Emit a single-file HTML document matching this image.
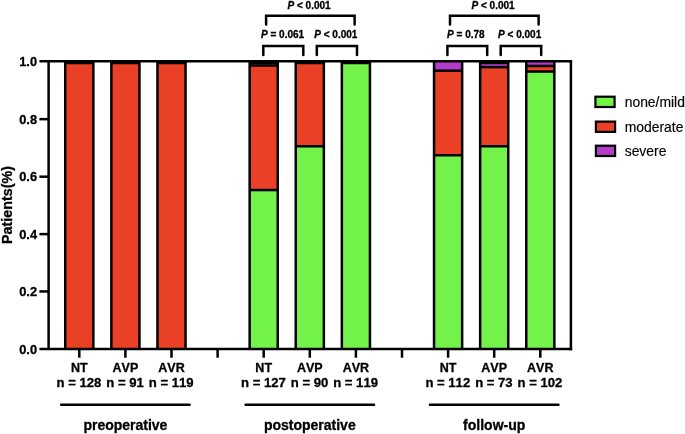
<!DOCTYPE html>
<html lang="en"><head><meta charset="utf-8"><title>Patients(%) chart</title>
<style>html,body{margin:0;padding:0;background:#fff}body{width:685px;height:434px;overflow:hidden}svg{display:block;filter:blur(0.35px)}text{font-kerning:none;font-family:"Liberation Sans",Arial,Helvetica,sans-serif;fill:#000}.b{font-weight:bold;stroke:#000;stroke-width:0.3px}.r{stroke:#000;stroke-width:0.15px}.i{font-style:italic}</style>
</head><body>
<svg width="685" height="434" viewBox="0 0 685 434">
<rect width="685" height="434" fill="#fff"/>
<g>
<rect x="65.25" y="63.00" width="28.10" height="285.90" fill="#e94026"/>
<rect x="111.35" y="63.00" width="28.10" height="285.90" fill="#e94026"/>
<rect x="157.45" y="63.00" width="28.10" height="285.90" fill="#e94026"/>
<rect x="249.65" y="63.00" width="28.10" height="2.50" fill="#b33cc9"/>
<rect x="249.65" y="65.50" width="28.10" height="124.55" fill="#e94026"/>
<rect x="249.65" y="190.05" width="28.10" height="158.85" fill="#73f349"/>
<rect x="295.75" y="63.00" width="28.10" height="83.25" fill="#e94026"/>
<rect x="295.75" y="146.25" width="28.10" height="202.65" fill="#73f349"/>
<rect x="341.85" y="63.00" width="28.10" height="285.90" fill="#73f349"/>
<rect x="434.05" y="61.30" width="28.10" height="9.35" fill="#b33cc9"/>
<rect x="434.05" y="70.65" width="28.10" height="84.60" fill="#e94026"/>
<rect x="434.05" y="155.25" width="28.10" height="193.65" fill="#73f349"/>
<rect x="480.15" y="63.00" width="28.10" height="4.15" fill="#b33cc9"/>
<rect x="480.15" y="67.15" width="28.10" height="79.10" fill="#e94026"/>
<rect x="480.15" y="146.25" width="28.10" height="202.65" fill="#73f349"/>
<rect x="526.25" y="61.30" width="28.10" height="4.65" fill="#b33cc9"/>
<rect x="526.25" y="65.95" width="28.10" height="5.60" fill="#e94026"/>
<rect x="526.25" y="71.55" width="28.10" height="277.35" fill="#73f349"/>
</g>
<g stroke="#000" stroke-width="2.5" fill="none" stroke-linejoin="miter">
<path d="M65.25 348.9V63.00H93.35V348.9"/>
<path d="M111.35 348.9V63.00H139.45V348.9"/>
<path d="M157.45 348.9V63.00H185.55V348.9"/>
<path d="M249.65 348.9V63.00H277.75V348.9"/>
<path d="M249.65 65.50H277.75"/>
<path d="M249.65 190.05H277.75"/>
<path d="M295.75 348.9V63.00H323.85V348.9"/>
<path d="M295.75 146.25H323.85"/>
<path d="M341.85 348.9V63.00H369.95V348.9"/>
<path d="M434.05 348.9V61.3M462.15 61.3V348.9"/>
<path d="M434.05 70.65H462.15"/>
<path d="M434.05 155.25H462.15"/>
<path d="M480.15 348.9V63.00H508.25V348.9"/>
<path d="M480.15 67.15H508.25"/>
<path d="M480.15 146.25H508.25"/>
<path d="M526.25 348.9V61.3M554.35 61.3V348.9"/>
<path d="M526.25 65.95H554.35"/>
<path d="M526.25 71.55H554.35"/>
</g>
<g stroke="#000" stroke-width="2.5" fill="none" stroke-linecap="butt">
<path d="M39.40 61.3H572.15"/>
<path d="M39.40 348.9H572.15"/>
<path d="M48.6 61.3V348.9"/>
<path d="M570.9 61.3V350.15"/>
<path d="M39.40 291.45H48.6"/>
<path d="M39.40 234.10H48.6"/>
<path d="M39.40 176.70H48.6"/>
<path d="M39.40 119.15H48.6"/>
<path d="M79.30 348.9V357.70"/>
<path d="M125.40 348.9V357.70"/>
<path d="M171.50 348.9V357.70"/>
<path d="M217.60 348.9V357.70"/>
<path d="M263.70 348.9V357.70"/>
<path d="M309.80 348.9V357.70"/>
<path d="M355.90 348.9V357.70"/>
<path d="M402.00 348.9V357.70"/>
<path d="M448.10 348.9V357.70"/>
<path d="M494.20 348.9V357.70"/>
<path d="M540.30 348.9V357.70"/>
</g>
<g class="b" font-size="12.8" text-anchor="end">
<text x="37.0" y="353.50">0.0</text>
<text x="37.0" y="296.05">0.2</text>
<text x="37.0" y="238.70">0.4</text>
<text x="37.0" y="181.30">0.6</text>
<text x="37.0" y="123.75">0.8</text>
<text x="37.0" y="65.90">1.0</text>
</g>
<text class="b" font-size="14.3" text-anchor="middle" transform="translate(12.0 205.0) rotate(-90)">Patients(%)</text>
<g class="b" font-size="12.5" text-anchor="middle">
<text x="79.30" y="371.6">NT</text>
<text x="125.40" y="371.6">AVP</text>
<text x="171.50" y="371.6">AVR</text>
<text x="263.70" y="371.6">NT</text>
<text x="309.80" y="371.6">AVP</text>
<text x="355.90" y="371.6">AVR</text>
<text x="448.10" y="371.6">NT</text>
<text x="494.20" y="371.6">AVP</text>
<text x="540.30" y="371.6">AVR</text>
</g>
<g class="b" font-size="13.1" text-anchor="middle">
<text x="79.00" y="386.8">n = 128</text>
<text x="125.10" y="386.8">n = 91</text>
<text x="171.20" y="386.8">n = 119</text>
<text x="263.40" y="386.8">n = 127</text>
<text x="309.50" y="386.8">n = 90</text>
<text x="355.60" y="386.8">n = 119</text>
<text x="447.80" y="386.8">n = 112</text>
<text x="493.90" y="386.8">n = 73</text>
<text x="540.00" y="386.8">n = 102</text>
</g>
<g stroke="#000" stroke-width="2.5" stroke-linecap="round">
<path d="M61.20 404.7H189.60"/>
<path d="M245.60 404.7H374.00"/>
<path d="M430.00 404.7H558.40"/>
</g>
<g class="b" font-size="14" text-anchor="middle">
<text x="125.40" y="430">preoperative</text>
<text x="309.80" y="430">postoperative</text>
<text x="494.20" y="430">follow-up</text>
</g>
<g stroke="#000" stroke-width="2.5" fill="none" stroke-linejoin="miter" stroke-linecap="round">
<path d="M266.1 24.6V15.7H354.6V24.6"/>
<path d="M263.3 55.0V46.1H303.3V55.0"/>
<path d="M316.8 55.0V46.1H357.0V55.0"/>
<path d="M450.0 24.6V15.7H538.6V24.6"/>
<path d="M447.4 55.0V46.1H487.2V55.0"/>
<path d="M500.7 55.0V46.1H541.2V55.0"/>
</g>
<g class="b" font-size="10" text-anchor="middle">
<text x="309.05" y="8.6"><tspan class="i">P</tspan> &lt; 0.001</text>
<text x="282.55" y="37.6"><tspan class="i">P</tspan> = 0.061</text>
<text x="335.85" y="37.6"><tspan class="i">P</tspan> &lt; 0.001</text>
<text x="493.05" y="8.6"><tspan class="i">P</tspan> &lt; 0.001</text>
<text x="465.85" y="37.6"><tspan class="i">P</tspan> = 0.78</text>
<text x="519.65" y="37.6"><tspan class="i">P</tspan> &lt; 0.001</text>
</g>
<g stroke="#000" stroke-width="2.2">
<rect x="595.4" y="96.70" width="19.2" height="10.3" fill="#73f349"/>
<rect x="595.9" y="121.60" width="19.2" height="10.3" fill="#e94026"/>
<rect x="595.9" y="145.70" width="19.2" height="10.3" fill="#b33cc9"/>
</g>
<g class="r" font-size="13.9">
<text x="624.7" y="106.9">none/mild</text>
<text x="624.7" y="131.6">moderate</text>
<text x="624.7" y="155.8">severe</text>
</g>
</svg>
</body></html>
